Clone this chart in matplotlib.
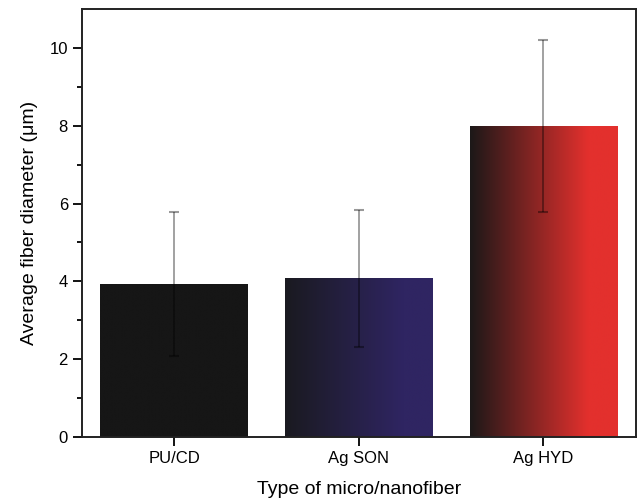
import numpy as np
import matplotlib
matplotlib.use("Agg")
import matplotlib.pyplot as plt
from matplotlib.colors import LinearSegmentedColormap

# data
fibers = ["PU/CD", "Ag SON", "Ag HYD"]
diameters = [3.93, 4.08, 7.99]
errors = [1.86, 1.76, 2.21]

# left and right colour of each bar's gradient
left_colors = ["#161616", "#1a1a20", "#1c1818"]
right_colors = ["#161616", "#2f2562", "#e3302d"]

plt.rcParams['font.family'] = ['Liberation Sans', 'DejaVu Sans']

fig = plt.figure(figsize=(6.39, 5.04), dpi=100)
ax = fig.add_axes([0.128, 0.133, 0.867, 0.849])

x = np.arange(1, len(fibers) + 1)
bars = ax.bar(x, diameters, width=0.8, color="none", edgecolor="none", zorder=2)

# fill every bar with a horizontal gradient, clipped to the bar
grad = np.linspace(0, 1, 256).reshape(1, -1)
for bar, c0, c1 in zip(bars, left_colors, right_colors):
    cmap = LinearSegmentedColormap.from_list("g", [(0, c0), (0.8, c1), (1, c1)])
    x0, y0 = bar.get_x(), bar.get_y()
    w, h = bar.get_width(), bar.get_height()
    im = ax.imshow(grad, cmap=cmap, aspect="auto", extent=[x0, x0 + w, y0, y0 + h],
                   interpolation="bilinear", zorder=2)
    im.set_clip_path(bar)

ax.errorbar(x, diameters, yerr=errors, fmt="none", ecolor="black", alpha=0.4,
            elinewidth=1.3, capsize=3.5, capthick=1.5, zorder=3)

ax.set_xlim(0.5, 3.5)
ax.set_ylim(0, 11)
ax.set_xticks(x)
ax.set_xticklabels(fibers)
ax.set_yticks([0, 2, 4, 6, 8, 10])
ax.set_yticks([1, 3, 5, 7, 9], minor=True)
ax.tick_params(axis="both", which="major", direction="out", length=6.5, width=1.3,
               labelsize=12, top=False, right=False)
ax.tick_params(axis="y", which="minor", direction="out", length=3.5, width=1.3)
ax.tick_params(axis="x", which="minor", bottom=False)

for s in ax.spines.values():
    s.set_linewidth(1.4)
    s.set_color("#222222")

ax.set_xlabel("Type of micro/nanofiber", fontsize=14, labelpad=11)
ax.set_ylabel("Average fiber diameter (\u03bcm)", fontsize=14, labelpad=8)

fig.savefig("out.png", dpi=100)
